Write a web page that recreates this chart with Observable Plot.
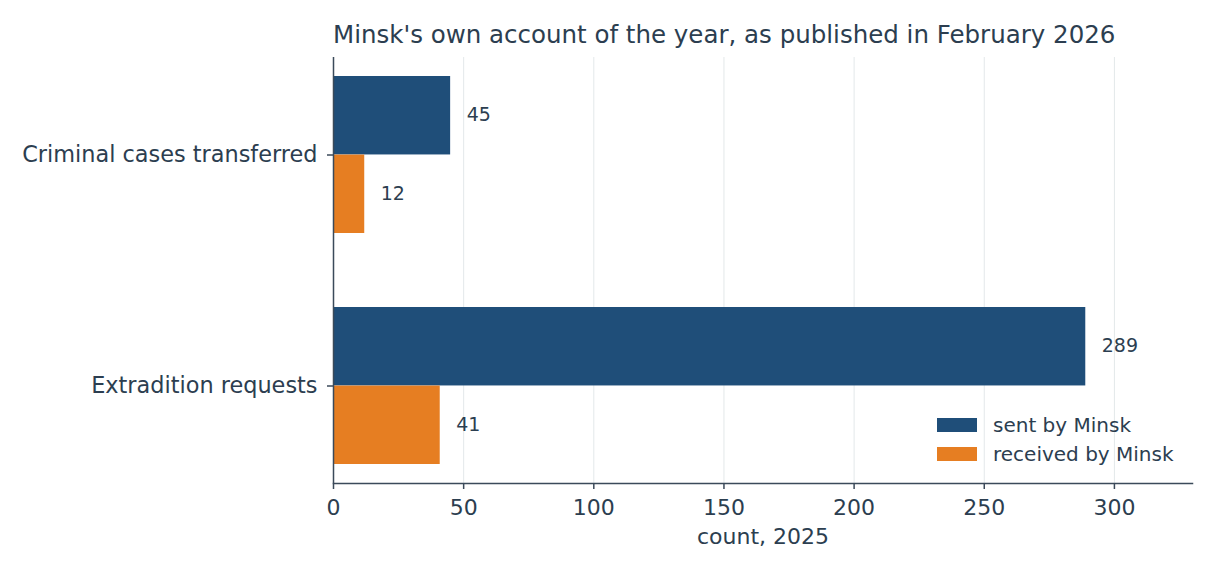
<!DOCTYPE html>
<html><head><meta charset="utf-8">
<script src="https://cdn.jsdelivr.net/npm/d3@7"></script>
<script src="https://cdn.jsdelivr.net/npm/@observablehq/plot@0.6"></script>
<style>
body{margin:0;background:#fff;font-family:"DejaVu Sans",sans-serif;color:#2c3e50}
#wrap{position:relative;width:1216px;height:576px;overflow:hidden}
#title{height:52px;position:relative}
#title span{position:absolute;left:333px;top:23px;font-size:24.5px;line-height:24.5px;white-space:nowrap}
#legend{position:absolute;left:937px;top:410px}
.row{display:flex;align-items:center;height:29px;font-size:20px;white-space:nowrap}
.sw{width:40px;height:14px;margin-right:16px}
svg{display:block}
</style>
</head><body>
<div id="wrap">
  <div id="title"><span></span></div>
  <div id="chart"></div>
  <div id="legend"></div>
</div>
<script>
const chartTitle = "Minsk's own account of the year, as published in February 2026";
const categories = ["Criminal cases transferred", "Extradition requests"];
const sentByMinsk = [45, 289];
const receivedByMinsk = [12, 41];
const seriesNames = ["sent by Minsk", "received by Minsk"];
const seriesColors = ["#1f4e79", "#e67e22"];
const xTicks = [0, 50, 100, 150, 200, 250, 300];
const xDomain = [0, 330];
const xLabel = "count, 2025";

const textColor = "#2c3e50";
const axisColor = "#3b4a5a";

const sentRows = categories.map((c, i) => ({category: c, series: seriesNames[0], value: sentByMinsk[i]}));
const recvRows = categories.map((c, i) => ({category: c, series: seriesNames[1], value: receivedByMinsk[i]}));

const H = 524, mt = 5, mb = 93;
const padInner = 0.32, padOuter = 0.082;
const step = (H - mt - mb) / (categories.length - padInner + 2 * padOuter);
const half = step * (1 - padInner) / 2;

document.querySelector("#title span").textContent = chartTitle;

const chart = Plot.plot({
  width: 1216, height: H,
  marginLeft: 333, marginRight: 24, marginTop: mt, marginBottom: mb,
  style: {fontFamily: "DejaVu Sans", color: textColor, background: "#fff"},
  x: {domain: xDomain},
  y: {type: "band", domain: categories, paddingInner: padInner, paddingOuter: padOuter},
  color: {domain: seriesNames, range: seriesColors},
  marks: [
    Plot.gridX({ticks: xTicks, stroke: "#e3e8ea", strokeOpacity: 1, strokeWidth: 1}),
    Plot.barX(sentRows, {x: "value", y: "category", fill: "series", insetBottom: half}),
    Plot.barX(recvRows, {x: "value", y: "category", fill: "series", insetTop: half}),
    Plot.text(sentRows, {x: "value", y: "category", text: d => String(d.value), dx: 16, dy: -half / 2 - 0.5, textAnchor: "start", lineAnchor: "middle", fontSize: 19, fill: textColor}),
    Plot.text(recvRows, {x: "value", y: "category", text: d => String(d.value), dx: 16, dy: half / 2 - 0.5, textAnchor: "start", lineAnchor: "middle", fontSize: 19, fill: textColor}),
    Plot.ruleX([0], {stroke: axisColor, strokeWidth: 1.5}),
    Plot.frame({anchor: "bottom", stroke: axisColor, strokeWidth: 1.5}),
    Plot.axisX({ticks: xTicks, tickSize: 6, tickPadding: 10, fontSize: 22, label: null, stroke: axisColor, strokeWidth: 1.5, fill: textColor}),
    Plot.axisY({tickSize: 6, tickPadding: 10, fontSize: 22.4, label: null, stroke: axisColor, strokeWidth: 1.5, fill: textColor}),
    Plot.text([xLabel], {frameAnchor: "bottom", dy: 53, lineAnchor: "middle", fontSize: 22, fill: textColor})
  ]
});
document.getElementById("chart").appendChild(chart);

const legend = document.getElementById("legend");
seriesNames.forEach((name, i) => {
  const row = document.createElement("div");
  row.className = "row";
  const sw = document.createElement("span");
  sw.className = "sw";
  sw.style.background = seriesColors[i];
  const label = document.createElement("span");
  label.textContent = name;
  row.appendChild(sw);
  row.appendChild(label);
  legend.appendChild(row);
});
</script>
</body></html>
